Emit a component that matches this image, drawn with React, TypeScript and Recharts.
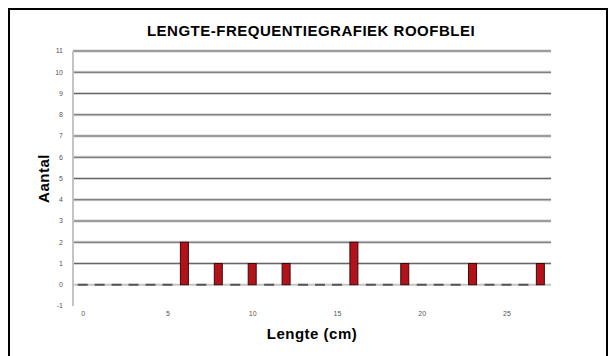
import React from "react";
import { BarChart, Bar, XAxis, YAxis, CartesianGrid, Label } from "recharts";

const lengths = [0, 1, 2, 3, 4, 5, 6, 7, 8, 9, 10, 11, 12, 13, 14, 15, 16, 17, 18, 19, 20, 21, 22, 23, 24, 25, 26, 27];
const counts = [0, 0, 0, 0, 0, 0, 2, 0, 1, 0, 1, 0, 1, 0, 0, 0, 2, 0, 0, 1, 0, 0, 0, 1, 0, 0, 0, 1];
const yTicks = [-1, 0, 1, 2, 3, 4, 5, 6, 7, 8, 9, 10, 11];
const gridValues = [1, 2, 3, 4, 5, 6, 7, 8, 9, 10, 11];
const zeroLine = [0];
const xTicks = [0, 5, 10, 15, 20, 25];
const title = "LENGTE-FREQUENTIEGRAFIEK ROOFBLEI";
const xTitle = "Lengte (cm)";
const yTitle = "Aantal";

const data = lengths.map((l, i) => ({ lengte: l, aantal: counts[i] }));

const FONT = "'Liberation Sans', Arial, sans-serif";

const BarShape = (props: any) => {
  const { x, y, width, height, value } = props;
  const v = Array.isArray(value) ? value[1] - value[0] : value;
  if (!height || v === 0) {
    return <line x1={x - 1} x2={x + width + 1} y1={y} y2={y} stroke="#555" strokeWidth={2} />;
  }
  return <rect x={x} y={y} width={width} height={height} fill="#b3121b" stroke="#3e0808" strokeWidth={1} />;
};

const YLabel = (props: any) => {
  const vb = props.viewBox || {};
  const cx = vb.x + 15;
  const cy = vb.y + vb.height / 2;
  return (
    <text
      x={cx}
      y={cy}
      transform={`rotate(-90 ${cx} ${cy})`}
      textAnchor="middle"
      dominantBaseline="central"
      fontFamily={FONT}
      fontWeight="bold"
      fontSize={15}
      letterSpacing={0.5}
      fill="#000"
    >
      {yTitle}
    </text>
  );
};

export default function App() {
  return (
    <div style={{ position: "absolute", left: 0, top: 0, width: 609, height: 356, overflow: "hidden", background: "#fff" }}>
      <div
        style={{
          position: "absolute",
          left: 8,
          top: 8,
          width: 600,
          height: 400,
          border: "2px solid #000",
          boxSizing: "border-box",
        }}
      />
      <div
        style={{
          position: "absolute",
          left: 0,
          top: 23,
          width: 622,
          textAlign: "center",
          fontFamily: FONT,
          fontWeight: "bold",
          fontSize: 15,
          lineHeight: "16px",
          letterSpacing: 0.5,
          color: "#000",
        }}
      >
        {title}
      </div>
      <div style={{ position: "absolute", left: 0, top: 0 }}>
        <BarChart width={609} height={356} data={data} margin={{ top: 51, right: 58, bottom: 30, left: 28 }}>
          <CartesianGrid vertical={false} horizontalValues={gridValues} stroke="#d2d2d2" strokeWidth={3} />
          <CartesianGrid vertical={false} horizontalValues={gridValues} stroke="#666" strokeWidth={1} />
          <CartesianGrid vertical={false} horizontalValues={zeroLine} stroke="#c4c4c4" strokeWidth={2} />
          <XAxis
            dataKey="lengte"
            type="number"
            domain={[-0.6, 27.6]}
            ticks={xTicks}
            interval={0}
            axisLine={false}
            tickLine={false}
            tickSize={3}
            tickMargin={2}
            height={20}
            tick={{ fontSize: 7, fill: "#555", fontFamily: FONT }}
          >
            <Label
              value={xTitle}
              position="bottom"
              offset={2}
              fontFamily={FONT}
              fontWeight="bold"
              fontSize={15}
              letterSpacing={0.5}
              fill="#000"
            />
          </XAxis>
          <YAxis
            type="number"
            domain={[-1, 11]}
            ticks={yTicks}
            interval={0}
            width={45}
            axisLine={{ stroke: "#c4c4c4", strokeWidth: 2 }}
            tickLine={false}
            tickSize={8}
            tickMargin={2}
            tick={{ fontSize: 7, fill: "#555", fontFamily: FONT }}
          >
            <Label content={<YLabel />} />
          </YAxis>
          <Bar dataKey="aantal" barSize={8} shape={<BarShape />} isAnimationActive={false} />
        </BarChart>
      </div>
    </div>
  );
}
